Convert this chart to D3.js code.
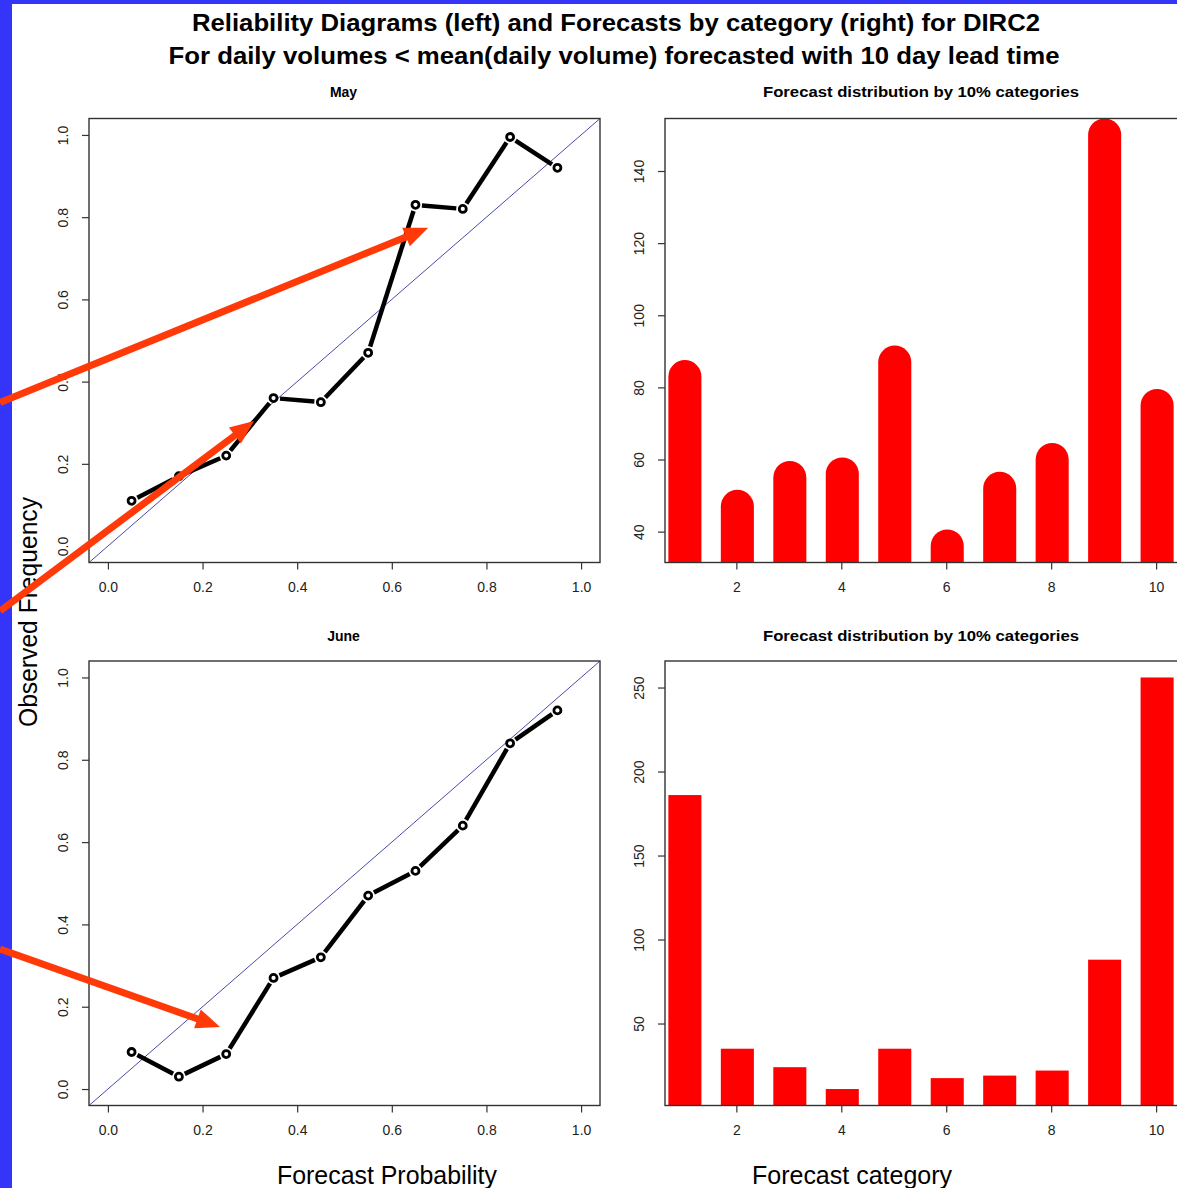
<!DOCTYPE html>
<html>
<head>
<meta charset="utf-8">
<script src="https://cdn.jsdelivr.net/npm/d3@7"></script>
<style>
  html, body { margin: 0; padding: 0; background: #fff; }
  svg { display: block; }
  text { font-family: "Liberation Sans", Arial, Helvetica, sans-serif; }
</style>
</head>
<body>
<svg id="chart" width="1177" height="1188"></svg>
<script>
// Forecast probability bins (centres of the 10% categories)
const probBins = [0.05, 0.15, 0.25, 0.35, 0.45, 0.55, 0.65, 0.75, 0.85, 0.95];
// Observed relative frequency per bin
const mayObserved  = [0.11, 0.17, 0.22, 0.36, 0.35, 0.47, 0.83, 0.82, 0.995, 0.92];
const juneObserved = [0.09, 0.03, 0.085, 0.27, 0.32, 0.47, 0.53, 0.64, 0.84, 0.92];

// Number of forecasts in each 10% category
const categories = [1, 2, 3, 4, 5, 6, 7, 8, 9, 10];
const mayCounts  = [83, 47, 55, 56, 87, 36, 52, 60, 150, 75];
const juneCounts = [186, 35, 24, 11, 35, 17.5, 19, 22, 88, 256];

// Tick values
const probTicks = [0, 0.2, 0.4, 0.6, 0.8, 1.0];
const mayCountTicks = [40, 60, 80, 100, 120, 140];
const juneCountTicks = [50, 100, 150, 200, 250];
const categoryTicks = [2, 4, 6, 8, 10];

// Text
const titleLines = [
  "Reliability Diagrams (left) and Forecasts by category (right) for DIRC2",
  "For daily volumes < mean(daily volume) forecasted with 10 day lead time"
];
const monthNames = ["May", "June"];
const barTitle = "Forecast distribution by 10% categories";

// Annotation arrows, in the data coordinates of the reliability panel they point into
const mayArrows = [
  { from: [-0.228, 0.349], to: [0.677, 0.774] },
  { from: [-0.228, -0.158], to: [0.309, 0.304] }
];
const juneArrows = [
  { from: [-0.228, 0.340], to: [0.237, 0.151] }
];

const svg = d3.select("#chart");
const W = 1177, H = 1188;
const FRAME = "#333";
const TICKTXT = "#222";

svg.append("rect").attr("width", W).attr("height", H).attr("fill", "#fff");

// R-style padded extent (4% on each side)
function padded(values) {
  const [lo, hi] = d3.extent(values);
  const r = hi - lo;
  return [lo - 0.04 * r, hi + 0.04 * r];
}

const leftX = [89, 600];
const rightX = [665, 1175];
const rows = [
  { top: 118.5, bottom: 562.5, titleY: 97 },
  { top: 661, bottom: 1105.5, titleY: 641 }
];

let clipId = 0;
function clipFor(g, x0, y0, x1, y1) {
  const id = "clip" + (clipId++);
  svg.append("defs").append("clipPath").attr("id", id)
    .append("rect").attr("x", x0).attr("y", y0).attr("width", x1 - x0).attr("height", y1 - y0);
  return "url(#" + id + ")";
}

function styleAxis(g) {
  g.select(".domain").remove();
  g.selectAll(".tick line").attr("stroke", FRAME).attr("stroke-width", 1.2);
  g.selectAll(".tick text").attr("fill", TICKTXT).style("font-size", "14px");
}

function leftAxis(g, y, ticks, fmt) {
  const ax = g.append("g").call(d3.axisLeft(y).tickValues(ticks).tickSize(7).tickFormat(fmt));
  styleAxis(ax);
  ax.selectAll(".tick text")
    .attr("x", null).attr("dy", null)
    .attr("transform", "translate(-21,0) rotate(-90)")
    .attr("text-anchor", "middle");
  return ax;
}

function bottomAxis(g, x, ticks, fmt, yPos) {
  const ax = g.append("g").attr("transform", `translate(0,${yPos})`)
    .call(d3.axisBottom(x).tickValues(ticks).tickSize(7).tickFormat(fmt));
  styleAxis(ax);
  ax.selectAll(".tick text").attr("y", 25).attr("dy", "0.32em");
  return ax;
}

function frame(g, x0, y0, x1, y1) {
  g.append("rect").attr("x", x0).attr("y", y0).attr("width", x1 - x0).attr("height", y1 - y0)
    .attr("fill", "none").attr("stroke", FRAME).attr("stroke-width", 1.4);
}

// Reliability diagram
function reliability(row, observed, month, arrows) {
  const g = svg.append("g");
  const x = d3.scaleLinear().domain([-0.04, 1.04]).range(leftX);
  const y = d3.scaleLinear().domain([-0.04, 1.04]).range([row.bottom, row.top]);
  const clip = clipFor(g, leftX[0], row.top, leftX[1], row.bottom);

  // perfect reliability diagonal
  g.append("line").attr("clip-path", clip)
    .attr("x1", x(-0.04)).attr("y1", y(-0.04)).attr("x2", x(1.04)).attr("y2", y(1.04))
    .attr("stroke", "#4a4aa8").attr("stroke-width", 1);

  // line segments stopping short of the points
  const pts = probBins.map((p, i) => [x(p), y(observed[i])]);
  const gap = 6.5;
  for (let i = 0; i < pts.length - 1; i++) {
    const [ax, ay] = pts[i], [bx, by] = pts[i + 1];
    const len = Math.hypot(bx - ax, by - ay);
    if (len <= 2 * gap) continue;
    const ux = (bx - ax) / len, uy = (by - ay) / len;
    g.append("line")
      .attr("x1", ax + ux * gap).attr("y1", ay + uy * gap)
      .attr("x2", bx - ux * gap).attr("y2", by - uy * gap)
      .attr("stroke", "#000").attr("stroke-width", 4.5);
  }
  g.selectAll("circle.pt").data(probBins).enter().append("circle")
    .attr("cx", (d) => x(d)).attr("cy", (d, i) => y(observed[i]))
    .attr("r", 3.5).attr("fill", "#fff").attr("stroke", "#000").attr("stroke-width", 2.8);

  frame(g, leftX[0], row.top, leftX[1], row.bottom);
  leftAxis(g.append("g").attr("transform", `translate(${leftX[0]},0)`), y, probTicks, d3.format(".1f"));
  bottomAxis(g, x, probTicks, d3.format(".1f"), row.bottom);

  g.append("text").attr("x", (leftX[0] + leftX[1]) / 2 - 1).attr("y", row.titleY)
    .attr("text-anchor", "middle").style("font-size", "14px").style("font-weight", "bold")
    .text(month);

  return { x, y, arrows };
}

// Forecast-count panel
function counts(row, values, ticks, rounded) {
  const g = svg.append("g");
  const x = d3.scaleLinear().domain([0.64, 10.36]).range(rightX);
  const y = d3.scaleLinear().domain(padded(values)).range([row.bottom, row.top]);
  const clip = clipFor(g, rightX[0], row.top, rightX[1], row.bottom);
  const half = 0.315;
  const bars = g.append("g").attr("clip-path", clip);

  if (rounded) {
    const lw = x(1 + 2 * half) - x(1);
    bars.selectAll("line").data(categories).enter().append("line")
      .attr("x1", (d) => x(d) + 1).attr("x2", (d) => x(d) + 1)
      .attr("y1", y(0)).attr("y2", (d, i) => y(values[i]))
      .attr("stroke", "#ff0000").attr("stroke-width", lw).attr("stroke-linecap", "round");
  } else {
    bars.selectAll("rect").data(categories).enter().append("rect")
      .attr("x", (d) => x(d - half) + 1).attr("width", (d) => x(d + half) - x(d - half))
      .attr("y", (d, i) => y(values[i]))
      .attr("height", (d, i) => row.bottom - y(values[i]) + 2)
      .attr("fill", "#ff0000");
  }

  frame(g, rightX[0], row.top, rightX[1] + 3, row.bottom);
  leftAxis(g.append("g").attr("transform", `translate(${rightX[0]},0)`), y, ticks, d3.format("d"));
  bottomAxis(g, x, categoryTicks, d3.format("d"), row.bottom);

  g.append("text").attr("x", 921).attr("y", row.titleY)
    .attr("text-anchor", "middle").style("font-size", "14px").style("font-weight", "bold")
    .attr("textLength", 316).attr("lengthAdjust", "spacingAndGlyphs")
    .text(barTitle);
}

const p1 = reliability(rows[0], mayObserved, monthNames[0], mayArrows);
counts(rows[0], mayCounts, mayCountTicks, true);
const p2 = reliability(rows[1], juneObserved, monthNames[1], juneArrows);
counts(rows[1], juneCounts, juneCountTicks, false);

// Titles
svg.append("text").attr("x", 616).attr("y", 31).attr("text-anchor", "middle")
  .style("font-size", "24px").style("font-weight", "bold")
  .attr("textLength", 848).attr("lengthAdjust", "spacingAndGlyphs").text(titleLines[0]);
svg.append("text").attr("x", 614).attr("y", 64).attr("text-anchor", "middle")
  .style("font-size", "24px").style("font-weight", "bold")
  .attr("textLength", 891).attr("lengthAdjust", "spacingAndGlyphs").text(titleLines[1]);

// Axis titles
svg.append("text").attr("transform", "translate(37,612) rotate(-90)").attr("text-anchor", "middle")
  .style("font-size", "25px").attr("textLength", 230).attr("lengthAdjust", "spacingAndGlyphs")
  .text("Observed Frequency");
svg.append("text").attr("x", 387).attr("y", 1184).attr("text-anchor", "middle")
  .style("font-size", "25px").attr("textLength", 220).attr("lengthAdjust", "spacingAndGlyphs")
  .text("Forecast Probability");
svg.append("text").attr("x", 852).attr("y", 1184).attr("text-anchor", "middle")
  .style("font-size", "25px").attr("textLength", 200).attr("lengthAdjust", "spacingAndGlyphs")
  .text("Forecast category");

// Blue page border
svg.append("rect").attr("x", 0).attr("y", 0).attr("width", W).attr("height", 4).attr("fill", "#3535fa");
svg.append("rect").attr("x", 0).attr("y", 0).attr("width", 12).attr("height", H).attr("fill", "#3535fa");

// Annotation arrows
const ARROW = "#ff3a08";
function drawArrows(panel) {
  panel.arrows.forEach((a) => {
    const x1 = panel.x(a.from[0]), y1 = panel.y(a.from[1]);
    const x2 = panel.x(a.to[0]), y2 = panel.y(a.to[1]);
    const len = Math.hypot(x2 - x1, y2 - y1);
    const ux = (x2 - x1) / len, uy = (y2 - y1) / len;
    const headL = 24, headW = 10;
    const bx = x2 - ux * headL, by = y2 - uy * headL;
    svg.append("line").attr("x1", x1).attr("y1", y1).attr("x2", bx + ux * 2).attr("y2", by + uy * 2)
      .attr("stroke", ARROW).attr("stroke-width", 7);
    svg.append("polygon")
      .attr("points", [[x2, y2], [bx - uy * headW, by + ux * headW], [bx + uy * headW, by - ux * headW]]
        .map((p) => p.join(",")).join(" "))
      .attr("fill", ARROW);
  });
}
drawArrows(p1);
drawArrows(p2);
</script>
</body>
</html>
